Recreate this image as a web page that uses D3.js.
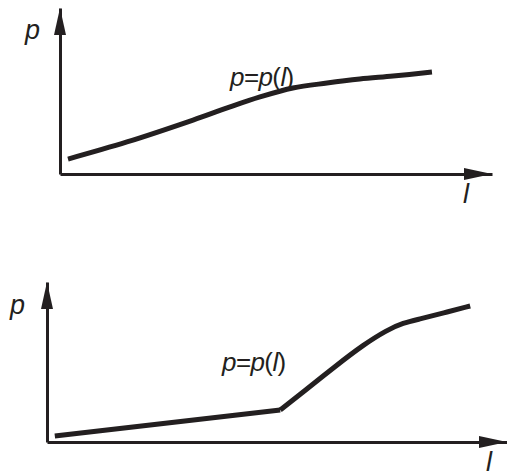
<!DOCTYPE html>
<html>
<head>
<meta charset="utf-8">
<script src="https://cdn.jsdelivr.net/npm/d3@7"></script>
<style>
  body { margin: 0; background: #fff; }
  text { font-family: "Liberation Sans", Arial, sans-serif; fill: #231f20; }
</style>
</head>
<body>
<div id="chart"></div>
<script>
// curve values (l and p on a 0-100 scale)
let topL = [1.85, 15.5, 30.8, 38.7, 46.3, 53.9, 61.8, 69.4, 77.1, 86.1];
let topP = [9.0, 19.3, 32.5, 39.8, 46.4, 51.8, 54.8, 57.2, 59.0, 61.4];

let bottomL = [1.7, 50.7, 55.7, 63.0, 68.7, 73.9, 77.4, 81.1, 86.1, 92.0];
let bottomP = [3.75, 20.0, 31.3, 48.1, 60.6, 70.0, 74.4, 76.9, 80.6, 85.0];
let kinkIndex = 1;

let axisLabels = ["p", "l"];
let curveLabel = ["p", "=", "p", "(", "l", ")"];

let width = 507, height = 473;
let ink = "#231f20";

let svg = d3.select("#chart")
    .append("svg")
    .attr("width", width)
    .attr("height", height);

function zip(ls, ps) {
    return ls.map(function (d, i) { return { l: d, p: ps[i] }; });
}

function panel(opts) {
    let x = d3.scaleLinear().domain([0, 100]).range([opts.x0, opts.x1]);
    let y = d3.scaleLinear().domain([0, 100]).range([opts.y0, opts.y1]);

    let g = svg.append("g");

    // axes (no ticks, only the lines)
    g.append("g")
        .attr("transform", "translate(0," + opts.y0 + ")")
        .call(d3.axisBottom(x).ticks(0).tickSizeOuter(0))
        .select(".domain")
        .attr("stroke", ink)
        .attr("stroke-width", 3);
    g.append("g")
        .attr("transform", "translate(" + opts.x0 + ",0)")
        .call(d3.axisLeft(y).ticks(0).tickSizeOuter(0))
        .select(".domain")
        .attr("stroke", ink)
        .attr("stroke-width", 3);

    // arrow heads
    let ax = x.range()[1], ay = y.range()[1];
    g.append("path")
        .attr("d", "M" + ax + "," + opts.y0 + "L" + (ax - 28) + "," + (opts.y0 - 6) +
            "L" + (ax - 28) + "," + (opts.y0 + 6) + "Z")
        .attr("fill", ink);
    g.append("path")
        .attr("d", "M" + opts.x0 + "," + ay + "L" + (opts.x0 - 6) + "," + (ay + 27) +
            "L" + (opts.x0 + 6) + "," + (ay + 27) + "Z")
        .attr("fill", ink);

    // axis letters
    g.append("text")
        .attr("x", opts.pLabel[0]).attr("y", opts.pLabel[1])
        .attr("font-size", 27).attr("font-style", "italic")
        .text(axisLabels[0]);
    g.append("text")
        .attr("x", opts.lLabel[0]).attr("y", opts.lLabel[1])
        .attr("font-size", 27).attr("font-style", "italic")
        .text(axisLabels[1]);

    // curve
    opts.segments.forEach(function (seg) {
        g.append("path")
            .datum(seg.data)
            .attr("fill", "none")
            .attr("stroke", ink)
            .attr("stroke-width", 5)
            .attr("stroke-linejoin", "miter")
            .attr("d", d3.line()
                .x(function (d) { return x(d.l); })
                .y(function (d) { return y(d.p); })
                .curve(seg.curve));
    });

    // p=p(l)
    let t = g.append("text")
        .attr("x", opts.curveLabel[0]).attr("y", opts.curveLabel[1])
        .attr("font-size", 26)
        .attr("letter-spacing", -0.6);
    curveLabel.forEach(function (c) {
        t.append("tspan")
            .attr("font-style", (c === "p" || c === "l") ? "italic" : "normal")
            .text(c);
    });
}

let topData = zip(topL, topP);
panel({
    x0: 60, x1: 492, y0: 174, y1: 8,
    pLabel: [25, 39], lLabel: [463, 203],
    curveLabel: [230, 86],
    segments: [{ data: topData, curve: d3.curveCatmullRom.alpha(0.5) }]
});

let bottomData = zip(bottomL, bottomP);
panel({
    x0: 47, x1: 507, y0: 442, y1: 282,
    pLabel: [10, 314], lLabel: [486, 471],
    curveLabel: [222, 371],
    segments: [
        { data: bottomData.slice(0, kinkIndex + 1), curve: d3.curveLinear },
        { data: bottomData.slice(kinkIndex), curve: d3.curveBasis }
    ]
});
</script>
</body>
</html>
